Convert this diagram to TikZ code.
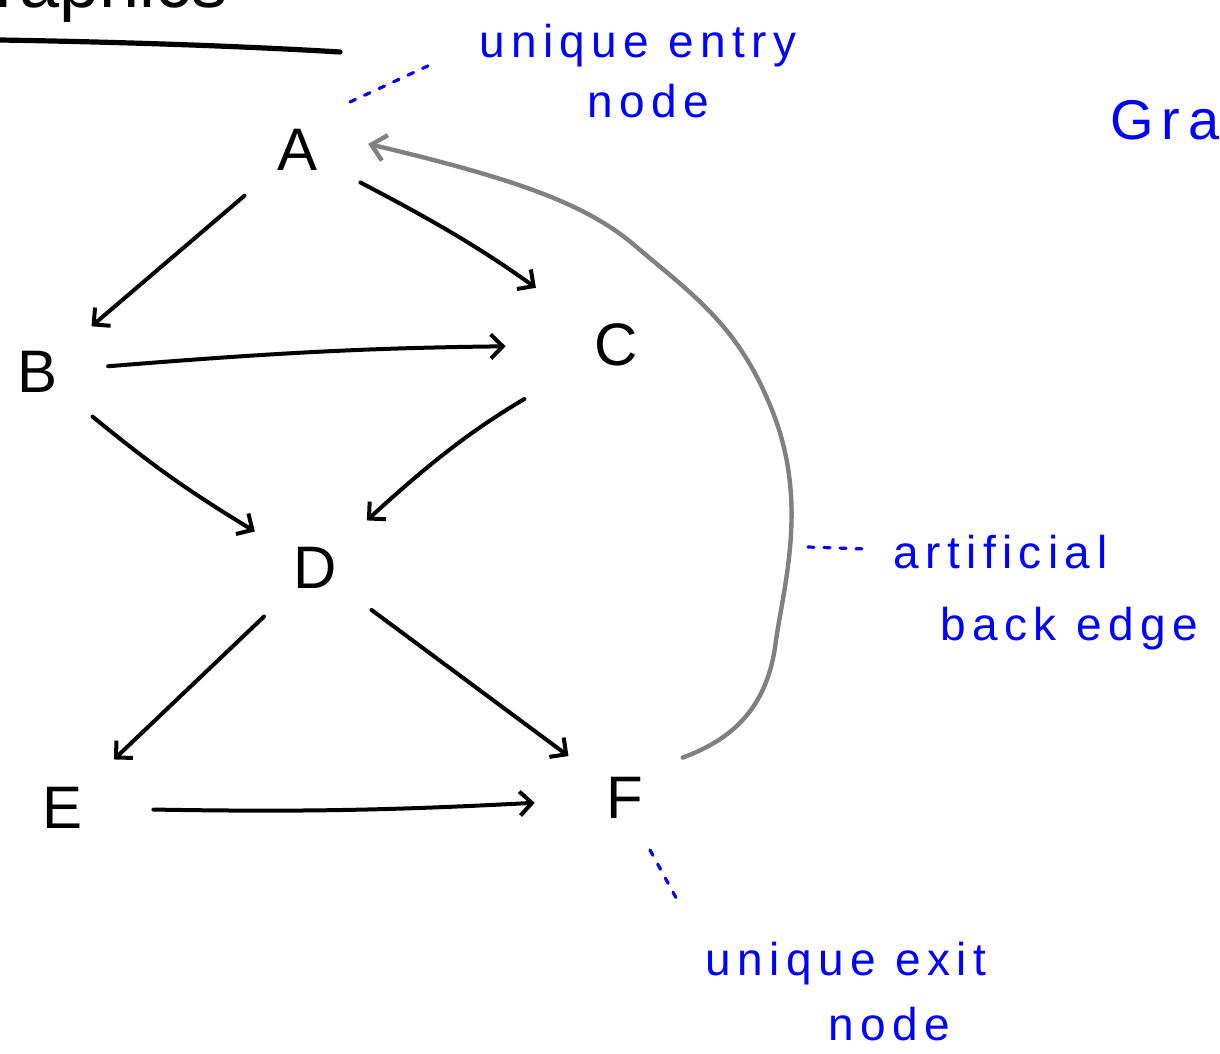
\documentclass[tikz,border=0pt]{standalone}
\usepackage{fontspec}
\setmainfont{Liberation Sans}
\newfontfamily\notefont[LetterSpace=14]{Liberation Sans}
\usetikzlibrary{arrows.meta}
\begin{document}
\begin{tikzpicture}[x=0.5pt,y=-0.5pt,
  vert/.style={circle,minimum size=70pt,inner sep=0pt,font=\fontsize{30}{32}\selectfont},
  edge/.style={line width=2pt,line cap=round,-{Straight Barb[length=6pt,width=12pt,line width=2pt]}},
  back/.style={draw=gray,line width=2.2pt,line cap=round,-{Straight Barb[length=7pt,width=13pt,line width=2.2pt]}},
  note/.style={text=blue,font=\notefont\fontsize{23}{30}\selectfont,align=center,inner sep=0pt},
  lead/.style={draw=blue,line width=1.6pt,line cap=round,dash pattern=on 3pt off 5pt}]
\useasboundingbox (0,0) rectangle (1220,1054);
% cut-off title and rule
\node[anchor=base east,font=\fontsize{36}{40}\selectfont,inner sep=0pt] (title) at (228,8) {graphics};
\draw[line width=2.6pt,line cap=round] (0,40) .. controls (120,42) and (240,46) .. (340,52);
% vertices
\node[vert] (A) at (298,150) {A};
\node[vert] (B) at (38,372) {B};
\node[vert] (C) at (616,345) {C};
\node[vert] (D) at (315,568) {D};
\node[vert] (E) at (63,808) {E};
\node[vert] (F) at (625,798) {F};
% edges
\draw[edge] (A) -- (B);
\draw[edge,shorten >=14pt] (A) to[bend left=4] (C);
\draw[edge,shorten >=20pt] (B) to[bend left=2] (C);
\draw[edge] (B) to[bend left=-4] (D);
\draw[edge,shorten <=18pt] (C) to[bend left=-6] (D);
\draw[edge] (D) -- (E);
\draw[edge] (D) -- (F);
\draw[edge,shorten <=10pt,shorten >=10pt] (E) to[bend left=-2] (F);
% artificial back edge
\draw[back] (F.35) .. controls (730,740) and (768,710) .. (776,640)
  .. controls (785,580) and (808,500) .. (772,410)
  .. controls (740,330) and (700,300) .. (640,250)
  .. controls (590,205) and (520,180) .. (A.5);
% annotations
\node[note,anchor=base] (entry) at (638,58) {unique entry};
\node[note,anchor=base] (entry2) at (648,118) {node};
\node[note,anchor=base west] (backlbl) at (893,568) {artificial};
\node[note,anchor=base west] (backlbl2) at (940,640) {back edge};
\node[note,anchor=base] (exit) at (846,975) {unique exit};
\node[note,anchor=base] (exit2) at (889,1040) {node};
\node[note,anchor=base west,font=\notefont\fontsize{28}{30}\selectfont] (graph) at (1110,140) {Graph};
\coordinate (e1) at (350,102);
\coordinate (e2) at (432,64);
\draw[lead] (e1) -- (e2);
\coordinate (b1) at (808,547);
\coordinate (b2) at (866,549);
\draw[lead] (b1) -- (b2);
\coordinate (x1) at (650,850);
\coordinate (x2) at (680,905);
\draw[lead] (x1) -- (x2);
\end{tikzpicture}
\end{document}
